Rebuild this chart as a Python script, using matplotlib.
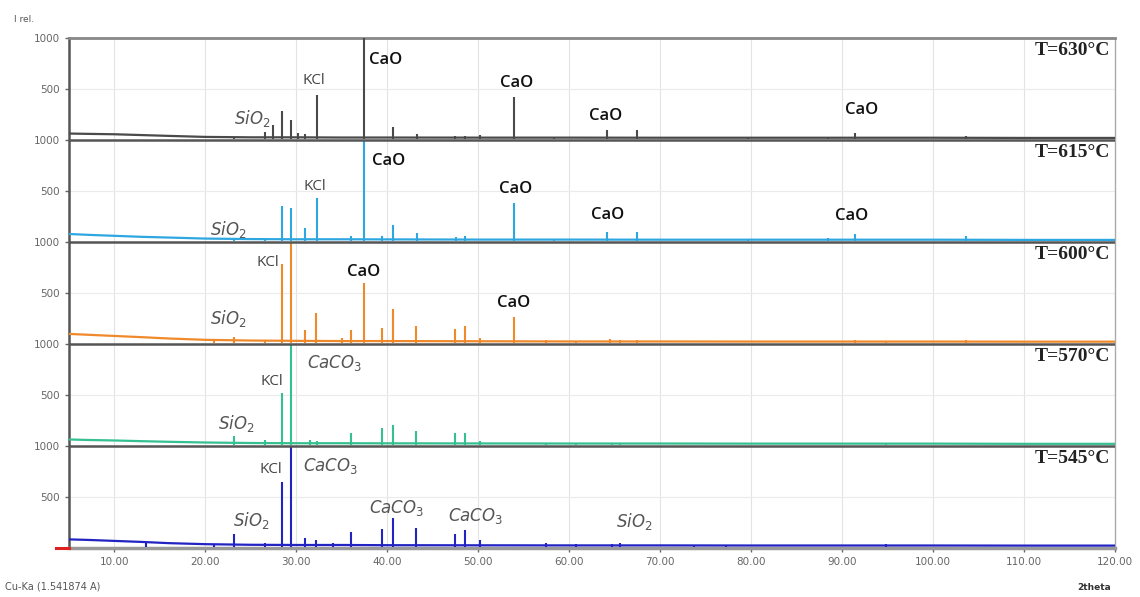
import matplotlib
matplotlib.use("Agg")
import matplotlib.pyplot as plt
import numpy as np

plt.rcParams['mathtext.fontset'] = 'dejavusans'

# --- data (relative intensity, 0-1000 per panel) ---
temps = ["T=630°C", "T=615°C", "T=600°C", "T=570°C", "T=545°C"]
colors = ["#4a4a4a", "#2ea7e0", "#f0892a", "#34c08f", "#2323c4"]

bg_x = [5, 7, 10, 13, 16, 20, 25, 30, 35, 40, 50, 60, 70, 80, 90, 100, 110, 120]
bg_630 = [65, 62, 58, 50, 42, 32, 28, 28, 26, 26, 25, 25, 24, 24, 24, 24, 22, 22]
bg_615 = [80, 72, 62, 52, 45, 35, 30, 28, 28, 27, 25, 25, 24, 24, 24, 24, 22, 22]
bg_600 = [100, 92, 80, 68, 55, 42, 35, 32, 30, 30, 28, 26, 26, 25, 25, 25, 24, 24]
bg_570 = [65, 60, 55, 48, 42, 35, 30, 28, 28, 27, 26, 25, 25, 24, 24, 24, 22, 22]
bg_545 = [85, 80, 70, 60, 48, 38, 32, 30, 30, 28, 27, 26, 26, 25, 25, 25, 24, 24]

pk_630 = [23.1, 26.6, 27.4, 28.4, 29.4, 30.2, 31.0, 32.3, 37.4, 40.6, 43.3, 47.4, 48.5, 50.2, 53.9, 58.3, 64.2, 67.4, 79.7, 88.5, 91.4, 103.6]
h_630 = [30, 80, 150, 290, 200, 70, 60, 440, 1000, 130, 60, 40, 40, 50, 420, 30, 100, 100, 30, 30, 70, 40]
pk_615 = [23.1, 26.6, 28.4, 29.4, 31.0, 32.3, 36.0, 37.4, 39.4, 40.6, 43.3, 47.5, 48.5, 53.9, 58.3, 64.2, 67.4, 79.7, 88.5, 91.4, 103.6]
h_615 = [40, 40, 350, 330, 140, 430, 60, 1000, 60, 170, 90, 50, 60, 380, 30, 100, 100, 30, 40, 80, 60]
pk_600 = [21.0, 23.1, 26.6, 28.4, 29.4, 31.0, 32.2, 35.0, 36.0, 37.4, 39.4, 40.6, 43.2, 47.4, 48.5, 50.2, 53.9, 57.4, 60.7, 64.5, 65.6, 67.4, 91.4, 94.8, 103.6]
h_600 = [40, 70, 40, 790, 1000, 140, 310, 60, 140, 600, 160, 340, 180, 150, 180, 60, 270, 40, 30, 50, 40, 40, 40, 30, 40]
pk_570 = [23.1, 26.6, 28.4, 29.4, 31.5, 32.3, 36.0, 39.4, 40.6, 43.2, 47.4, 48.5, 50.2, 57.4, 60.7, 64.7, 65.6, 94.8]
h_570 = [100, 60, 520, 1000, 60, 50, 130, 180, 210, 150, 130, 130, 50, 30, 30, 25, 30, 30]
pk_545 = [13.5, 21.0, 23.1, 26.6, 28.4, 29.4, 31.0, 32.2, 34.0, 36.0, 39.4, 40.6, 43.2, 47.4, 48.5, 50.2, 57.4, 60.7, 64.7, 65.6, 73.7, 77.2, 94.8]
h_545 = [50, 40, 140, 50, 650, 1000, 100, 80, 50, 160, 190, 290, 200, 140, 180, 80, 50, 40, 40, 50, 30, 25, 35]

backgrounds = [bg_630, bg_615, bg_600, bg_570, bg_545]
peaks = [pk_630, pk_615, pk_600, pk_570, pk_545]
heights = [h_630, h_615, h_600, h_570, h_545]

# labels per panel: (text, 2theta, intensity, kind)
labels = [
    [("$SiO_2$", 25.2, 215, "si"), ("KCl", 31.9, 590, "k"), ("CaO", 39.8, 790, "c"),
     ("CaO", 54.2, 560, "c"), ("CaO", 64.0, 235, "c"), ("CaO", 92.2, 300, "c")],
    [("$SiO_2$", 22.5, 120, "si"), ("KCl", 32.0, 550, "k"), ("CaO", 40.1, 800, "c"),
     ("CaO", 54.1, 520, "c"), ("CaO", 64.2, 265, "c"), ("CaO", 91.0, 255, "c")],
    [("$SiO_2$", 22.5, 250, "si"), ("KCl", 26.9, 800, "k"), ("CaO", 37.4, 710, "c"),
     ("CaO", 53.9, 400, "c")],
    [("$SiO_2$", 23.4, 225, "si"), ("KCl", 27.3, 630, "k"), ("$CaCO_3$", 34.2, 810, "si")],
    [("$SiO_2$", 25.0, 270, "si"), ("KCl", 27.2, 775, "k"), ("$CaCO_3$", 33.8, 800, "si"),
     ("$CaCO_3$", 41.0, 390, "si"), ("$CaCO_3$", 49.7, 310, "si"), ("$SiO_2$", 67.1, 265, "si")],
]

fig = plt.figure(figsize=(11.4, 5.97), dpi=100)
ax = fig.add_axes([0.0605, 0.082, 0.9175, 0.854])

n = len(temps)
for i in range(n):
    off = (n - 1 - i) * 1000
    ax.plot(bg_x, np.array(backgrounds[i]) + off, color=colors[i], lw=1.6, zorder=3)
    ax.vlines(peaks[i], off + 15, off + np.array(heights[i]), color=colors[i], lw=1.5, zorder=3)
    ax.text(119.5, off + 880, temps[i], ha="right", va="center", fontsize=14,
            fontweight="bold", family="Liberation Serif", color="#222222")
    for txt, x, y, kind in labels[i]:
        if kind == "si":
            ax.text(x, off + y, txt, ha="center", va="center", fontsize=12,
                    style="italic", color="#555555")
        elif kind == "k":
            ax.text(x, off + y, txt, ha="center", va="center", fontsize=11,
                    family="Open Sans", color="#444444")
        else:
            ax.text(x, off + y, txt, ha="center", va="center", fontsize=12,
                    family="Open Sans", fontweight="semibold", color="#111111")
    if i > 0:
        ax.axhline(off + 1000, color="#555555", lw=1.8, zorder=4)

# faint grid
for v in range(10, 120, 10):
    ax.axvline(v, color="#e3e3e3", lw=0.8, zorder=0)
for i in range(n):
    ax.axhline(i * 1000 + 500, color="#ebebeb", lw=0.8, zorder=0)

ax.set_xlim(5, 120)
ax.set_ylim(0, 5000)
ax.set_xticks(range(10, 121, 10))
ax.set_xticklabels(["%.2f" % v for v in range(10, 121, 10)])
ax.set_yticks([500 * k for k in range(1, 11)])
ax.set_yticklabels(["500" if k % 2 else "1000" for k in range(1, 11)])
ax.tick_params(colors="#666666", labelsize=7.5, length=3, width=1)

for s in ["left", "top", "right", "bottom"]:
    ax.spines[s].set_color("#888888")
ax.spines["left"].set_linewidth(1.8)
ax.spines["left"].set_color("#555555")
ax.spines["top"].set_linewidth(2.0)
ax.spines["bottom"].set_linewidth(2.5)
ax.spines["bottom"].set_color("#999999")
ax.spines["right"].set_linewidth(1.0)
ax.spines["right"].set_color("#aaaaaa")

# red marker at origin
ax.plot([-0.012, 0.0], [0.0, 0.0], transform=ax.transAxes, color="#e02020",
        lw=2.2, clip_on=False, zorder=5)

fig.text(0.012, 0.963, "I rel.", fontsize=6.5, color="#555555")
fig.text(0.004, 0.012, "Cu-Ka (1.541874 A)", fontsize=7, color="#555555")
fig.text(0.975, 0.012, "2theta", fontsize=6.5, color="#333333", ha="right",
         fontweight="bold")

fig.savefig("out.png", dpi=100)
